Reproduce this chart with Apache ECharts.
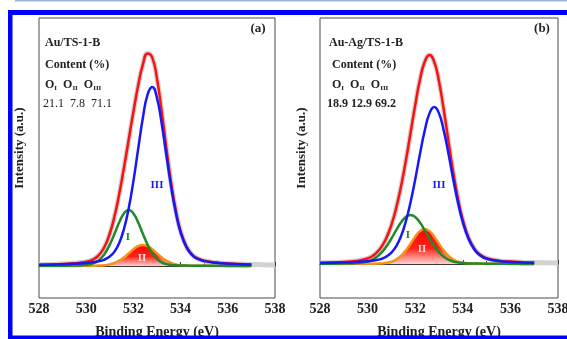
<!DOCTYPE html>
<html><head><meta charset="utf-8">
<script src="https://cdn.jsdelivr.net/npm/echarts/dist/echarts.min.js"></script>
<style>html,body{margin:0;padding:0;background:#fff}#c{width:567px;height:339px}</style>
</head><body><div id="c"></div>
<script>
// Binding energy grid (eV) at which curves were read
const energy = [528, 529, 529.5, 530, 530.25, 530.5, 530.75, 531, 531.2, 531.4, 531.6, 531.8, 532, 532.2, 532.4, 532.6, 532.8, 533, 533.2, 533.4, 533.6, 533.8, 534, 534.25, 534.5, 534.75, 535, 535.5, 536, 536.5, 537];
const tailEnergy = [537.5, 538];
const xTicks = [528, 530, 532, 534, 536, 538];

// (a) Au/TS-1-B
const envA    = [0.14, 0.21, 0.27, 0.43, 0.61, 1.00, 1.80, 3.25, 4.97, 7.21, 9.82, 12.62, 15.42, 18.02, 20.13, 21.25, 20.84, 18.73, 15.43, 11.74, 8.31, 5.53, 3.50, 1.94, 1.12, 0.73, 0.53, 0.35, 0.25, 0.19, 0.16];
const peakIIIA = [0.11, 0.17, 0.22, 0.30, 0.37, 0.46, 0.62, 0.95, 1.44, 2.31, 3.70, 5.76, 8.49, 11.67, 14.80, 17.13, 17.89, 16.77, 14.21, 11.02, 7.90, 5.30, 3.37, 1.86, 1.07, 0.68, 0.49, 0.32, 0.23, 0.17, 0.14];
const peakIA   = [0.02, 0.03, 0.04, 0.11, 0.22, 0.50, 1.11, 2.14, 3.23, 4.37, 5.26, 5.60, 5.26, 4.37, 3.23, 2.14, 1.28, 0.70, 0.36, 0.19, 0.11, 0.07, 0.05, 0.04, 0.03, 0.03, 0.02, 0.02, 0.01, 0.01, 0.01];
const peakIIA  = [0.01, 0.01, 0.01, 0.02, 0.02, 0.04, 0.07, 0.16, 0.30, 0.53, 0.86, 1.26, 1.67, 1.98, 2.10, 1.98, 1.67, 1.26, 0.86, 0.53, 0.30, 0.16, 0.08, 0.04, 0.02, 0.02, 0.02, 0.01, 0.01, 0.01, 0.01];
const expTailA = [0.12, 0.10];

// (b) Au-Ag/TS-1-B
const envB    = [0.13, 0.20, 0.30, 0.55, 0.86, 1.44, 2.40, 3.92, 5.59, 7.70, 10.24, 13.05, 15.89, 18.42, 20.22, 20.90, 20.22, 18.26, 15.41, 12.22, 9.15, 6.51, 4.41, 2.59, 1.49, 0.90, 0.58, 0.33, 0.24, 0.18, 0.14];
const peakIIIB = [0.10, 0.15, 0.20, 0.27, 0.34, 0.46, 0.68, 1.14, 1.77, 2.76, 4.20, 6.13, 8.46, 10.99, 13.34, 15.06, 15.70, 15.06, 13.34, 10.99, 8.46, 6.13, 4.20, 2.47, 1.41, 0.83, 0.53, 0.29, 0.21, 0.16, 0.12];
const peakIB   = [0.02, 0.04, 0.08, 0.25, 0.49, 0.93, 1.62, 2.55, 3.38, 4.14, 4.70, 4.90, 4.70, 4.14, 3.38, 2.55, 1.79, 1.18, 0.73, 0.43, 0.25, 0.15, 0.09, 0.06, 0.04, 0.04, 0.03, 0.02, 0.02, 0.01, 0.01];
const peakIIB  = [0.01, 0.01, 0.02, 0.03, 0.03, 0.05, 0.10, 0.23, 0.44, 0.80, 1.34, 2.02, 2.73, 3.29, 3.50, 3.29, 2.73, 2.02, 1.34, 0.80, 0.44, 0.23, 0.12, 0.06, 0.04, 0.03, 0.02, 0.02, 0.01, 0.01, 0.01];
const expTailB = [0.12, 0.10];

const sampleNames = ['Au/TS-1-B', 'Au-Ag/TS-1-B'];
const contentA = ['21.1', '7.8', '71.1'];
const contentB = ['18.9', '12.9', '69.2'];
const panelTags = ['(a)', '(b)'];

const SERIF = 'Liberation Serif';
const chart = echarts.init(document.getElementById('c'), null, {renderer: 'canvas'});

function pairs(xs, ys) { return xs.map((x, i) => [x, ys[i]]); }

function panelSeries(idx, env, tail, p3, p1, p2) {
  const base = {type: 'line', xAxisIndex: idx, yAxisIndex: idx, symbol: 'none', smooth: 0.5, silent: true, animation: false};
  return [
    Object.assign({}, base, {name: 'exp', data: pairs(energy.concat(tailEnergy), env.concat(tail)), lineStyle: {color: '#d2d2d2', width: 5}, z: 1}),
    Object.assign({}, base, {name: 'II', data: pairs(energy, p2), lineStyle: {color: '#f5921a', width: 2.5}, z: 2,
      areaStyle: {origin: 0, opacity: 1, color: new echarts.graphic.LinearGradient(0, 0, 0, 1, [
        {offset: 0, color: '#ff0000'}, {offset: 0.55, color: '#ff2418'}, {offset: 1, color: '#ffd2d2'}])}}),
    Object.assign({}, base, {name: 'env', data: pairs(energy, env), lineStyle: {color: '#ff1010', width: 2.5}, z: 3}),
    Object.assign({}, base, {name: 'I', data: pairs(energy, p1), lineStyle: {color: '#22882a', width: 2.5}, z: 4}),
    Object.assign({}, base, {name: 'III', data: pairs(energy, p3), lineStyle: {color: '#1818f5', width: 2.5}, z: 5})
  ];
}

function xAxisDef(idx) {
  return {
    gridIndex: idx, type: 'value', min: xTicks[0], max: xTicks[xTicks.length - 1], interval: 2,
    axisLine: {show: true, lineStyle: {color: '#3a3a3a', width: 1}},
    axisTick: {show: true, inside: true, length: 4, lineStyle: {color: '#3a3a3a'}},
    minorTick: {show: true, splitNumber: 2, length: 3, lineStyle: {color: '#3a3a3a'}},
    splitLine: {show: false},
    axisLabel: {fontFamily: SERIF, fontWeight: 'bold', fontSize: 14, color: '#222', margin: 4},
    name: 'Binding Energy (eV)', nameLocation: 'middle', nameGap: 27,
    nameTextStyle: {fontFamily: SERIF, fontWeight: 'bold', fontSize: 14, color: '#222'}
  };
}
function yAxisDef(idx, min, max) {
  return {gridIndex: idx, type: 'value', min: min, max: max,
    axisLine: {show: false}, axisTick: {show: false}, axisLabel: {show: false}, splitLine: {show: false}};
}

const txt = (x, y, text, opts) => Object.assign({type: 'text', x: x, y: y, z: 50,
  style: Object.assign({text: text, font: 'bold 12px "' + SERIF + '"', fill: '#222', textAlign: 'left', textVerticalAlign: 'middle'}, opts || {})});

const oRich = {o: {fontFamily: SERIF, fontWeight: 'bold', fontSize: 12, fill: '#222'},
               s: {fontFamily: SERIF, fontWeight: 'bold', fontSize: 7, fill: '#222', padding: [6, 0, 0, 0]}};
function oLabel(x, y) {
  return {type: 'text', x: x, y: y, z: 50, style: {text: '{o|O}{s|I}  {o|O}{s|II}  {o|O}{s|III}', rich: oRich, textVerticalAlign: 'middle', font: 'bold 12px "' + SERIF + '"'}};
}

const graphics = [
  {type: 'rect', shape: {x: 15, y: 0, width: 552, height: 1.5}, style: {fill: '#9db5d2'}, z: 100},
  {type: 'rect', shape: {x: 8, y: 10, width: 559, height: 5}, style: {fill: '#0000ff'}, z: 100},
  {type: 'rect', shape: {x: 8, y: 10, width: 4.5, height: 329}, style: {fill: '#0000ff'}, z: 100},
  {type: 'rect', shape: {x: 8, y: 335.5, width: 559, height: 4}, style: {fill: '#0000ff'}, z: 100},
  // y-axis titles
  txt(20, 148, 'Intensity (a.u.)', {textAlign: 'center', font: 'bold 13px "' + SERIF + '"'}),
  txt(302, 148, 'Intensity (a.u.)', {textAlign: 'center', font: 'bold 13px "' + SERIF + '"'}),
  // panel (a) annotations
  txt(45, 43, sampleNames[0]),
  txt(45, 65, 'Content (%)'),
  oLabel(45, 85),
  txt(43, 104, contentA.join('  '), {font: '12px "' + SERIF + '"'}),
  txt(258, 29, panelTags[0], {textAlign: 'center', font: 'bold 13px "' + SERIF + '"'}),
  txt(157, 185, 'III', {textAlign: 'center', fill: '#1818f5', font: 'bold 11px "' + SERIF + '"'}),
  txt(128, 237, 'I', {textAlign: 'center', fill: '#22882a', font: 'bold 11px "' + SERIF + '"'}),
  txt(142, 258, 'II', {textAlign: 'center', fill: '#ffdede', font: 'bold 11px "' + SERIF + '"'}),
  // panel (b) annotations
  txt(329, 43, sampleNames[1]),
  txt(332, 65, 'Content (%)'),
  oLabel(332, 85),
  txt(327, 104, contentB.join(' ')),
  txt(542, 29, panelTags[1], {textAlign: 'center', font: 'bold 13px "' + SERIF + '"'}),
  txt(439, 185, 'III', {textAlign: 'center', fill: '#1818f5', font: 'bold 11px "' + SERIF + '"'}),
  txt(408, 235, 'I', {textAlign: 'center', fill: '#22882a', font: 'bold 11px "' + SERIF + '"'}),
  txt(422, 249, 'II', {textAlign: 'center', fill: '#ffdede', font: 'bold 11px "' + SERIF + '"'})
];
graphics.forEach(g => {
  if (g.style && g.style.text === 'Intensity (a.u.)') g.rotation = Math.PI / 2;
});

chart.setOption({
  backgroundColor: '#ffffff',
  animation: false,
  grid: [
    {left: 39, top: 18, width: 236, height: 280, show: true, borderColor: '#4a4a4a', borderWidth: 1, backgroundColor: 'transparent', containLabel: false, outerBoundsMode: 'none'},
    {left: 320, top: 18, width: 238, height: 280, show: true, borderColor: '#4a4a4a', borderWidth: 1, backgroundColor: 'transparent', containLabel: false, outerBoundsMode: 'none'}
  ],
  xAxis: [xAxisDef(0), xAxisDef(1)],
  yAxis: [yAxisDef(0, -3.2, 24.8), yAxisDef(1, -3.4, 24.6)],
  series: panelSeries(0, envA, expTailA, peakIIIA, peakIA, peakIIA)
    .concat(panelSeries(1, envB, expTailB, peakIIIB, peakIB, peakIIB)),
  graphic: graphics
});
</script>
</body></html>
